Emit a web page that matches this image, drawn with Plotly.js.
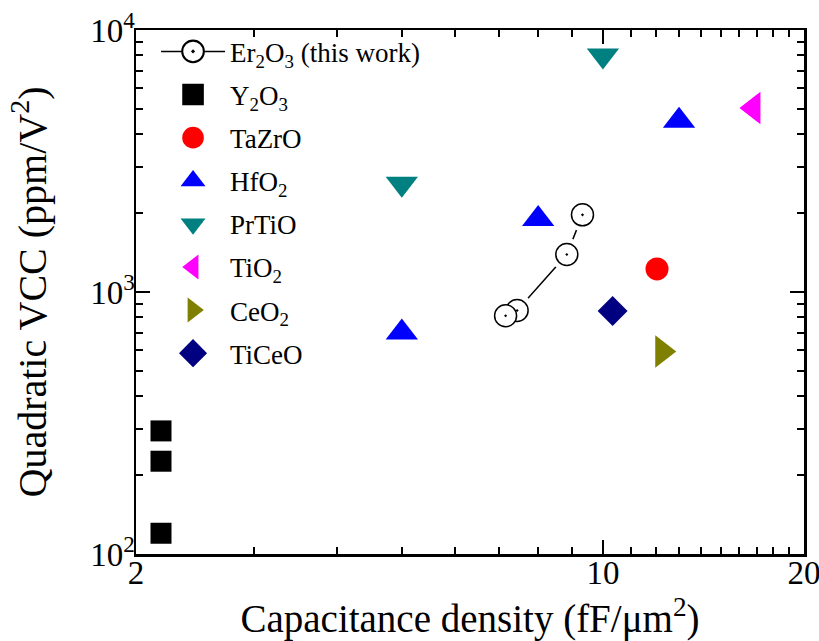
<!DOCTYPE html>
<html>
<head>
<meta charset="utf-8">
<script src="https://cdn.plot.ly/plotly-3.0.1.min.js"></script>
<style>
  html, body { margin: 0; padding: 0; background: #fff; }
  #chart { width: 819px; height: 641px; }
</style>
</head>
<body>
<div id="chart"></div>
<script>
// Capacitance density (fF/um^2) vs quadratic VCC (ppm/V^2) for MIM dielectrics
const er2o3X = [9.32, 8.83, 7.44, 7.15];
const er2o3Y = [1970, 1390, 850, 812];

const y2o3X = [2.18, 2.18, 2.18];
const y2o3Y = [295, 226, 120];

const tazroX = [12.05];
const tazroY = [1225];

const hfo2X = [5.0, 8.0, 13.0];
const hfo2Y = [700, 1900, 4500];

const prtioX = [10.0, 5.0];
const prtioY = [8000, 2590];

const tio2X = [16.8];
const tio2Y = [5040];

const ceo2X = [12.27];
const ceo2Y = [593];

const ticeoX = [10.34];
const ticeoY = [846];

const xMajorTicks = [2, 10, 20];
const xMajorText = ['2', '10', '20'];
const xMinorTicks = [3, 4, 5, 6, 7, 8, 9, 11, 12, 13, 14, 15, 16, 17, 18, 19];
const yMajorTicks = [100, 1000, 10000];
const yMajorText = ['10<sup>2</sup>', '10<sup>3</sup>', '10<sup>4</sup>'];
const yMinorTicks = [200, 300, 400, 500, 600, 700, 800, 900,
                     2000, 3000, 4000, 5000, 6000, 7000, 8000, 9000];

const FONT = "'Liberation Serif', 'Times New Roman', serif";

const traces = [
  // Er2O3: connecting line + open dotted circles
  {
    x: er2o3X, y: er2o3Y, name: 'Er<sub>2</sub>O<sub>3</sub> (this work)', legendgroup: 'g1',
    mode: 'lines+markers', type: 'scatter',
    line: {color: '#000', width: 1.5},
    marker: {symbol: 'circle-dot', size: 22, color: '#fff', line: {color: '#000', width: 1.5}}
  },
  // white halo leaves a gap between the line and each circle
  {
    x: er2o3X, y: er2o3Y, mode: 'markers', type: 'scatter', showlegend: false, legendgroup: 'g1',
    hoverinfo: 'skip',
    marker: {symbol: 'circle', size: 33, color: '#fff', line: {width: 0}}
  },
  {
    x: er2o3X, y: er2o3Y, mode: 'markers', type: 'scatter', showlegend: false, legendgroup: 'g1',
    marker: {symbol: 'circle-dot', size: 22, color: '#fff', line: {color: '#000', width: 1.5}}
  },
  {
    x: y2o3X, y: y2o3Y, name: 'Y<sub>2</sub>O<sub>3</sub>', legendgroup: 'g2', mode: 'markers', type: 'scatter',
    marker: {symbol: 'square', size: 21, color: '#000'}
  },
  {
    x: tazroX, y: tazroY, name: 'TaZrO', legendgroup: 'g3', mode: 'markers', type: 'scatter',
    marker: {symbol: 'circle', size: 23, color: '#ff0000'}
  },
  {
    x: hfo2X, y: hfo2Y, name: 'HfO<sub>2</sub>', legendgroup: 'g4', mode: 'markers', type: 'scatter',
    marker: {symbol: 'triangle-up', size: 28, color: '#0000ff'}
  },
  {
    x: prtioX, y: prtioY, name: 'PrTiO', legendgroup: 'g5', mode: 'markers', type: 'scatter',
    marker: {symbol: 'triangle-down', size: 28, color: '#008080'}
  },
  {
    x: tio2X, y: tio2Y, name: 'TiO<sub>2</sub>', legendgroup: 'g6', mode: 'markers', type: 'scatter',
    marker: {symbol: 'triangle-left', size: 28, color: '#ff00ff'}
  },
  {
    x: ceo2X, y: ceo2Y, name: 'CeO<sub>2</sub>', legendgroup: 'g7', mode: 'markers', type: 'scatter',
    marker: {symbol: 'triangle-right', size: 28, color: '#808000'}
  },
  {
    x: ticeoX, y: ticeoY, name: 'TiCeO', legendgroup: 'g8', mode: 'markers', type: 'scatter',
    marker: {symbol: 'diamond', size: 23, color: '#000080'}
  }
];

const axisCommon = {
  type: 'log',
  showgrid: false,
  zeroline: false,
  showline: true,
  linecolor: '#000',
  linewidth: 2.5,
  mirror: 'ticks',
  ticks: 'inside',
  ticklen: 14,
  tickwidth: 2,
  tickcolor: '#000',
  tickmode: 'array',
  ticklabeloverflow: 'allow',
  tickfont: {family: FONT, size: 33, color: '#000'}
};

const layout = {
  width: 819,
  height: 641,
  margin: {l: 136, r: 15, t: 30, b: 87},
  paper_bgcolor: '#fff',
  plot_bgcolor: '#fff',
  font: {family: FONT, color: '#000'},
  showlegend: true,
  legend: {
    x: 0.03, y: 1.005, xanchor: 'left', yanchor: 'top',
    bgcolor: 'rgba(0,0,0,0)', borderwidth: 0,
    font: {family: FONT, size: 27, color: '#000'},
    itemwidth: 64,
    tracegroupgap: 5,
    maxheight: 600
  },
  xaxis: Object.assign({}, axisCommon, {
    range: [Math.log10(2), Math.log10(20)],
    tickvals: xMajorTicks, ticktext: xMajorText,
    ticklabelstandoff: -12,
    minor: {tickmode: 'array', tickvals: xMinorTicks, ticks: 'inside', ticklen: 7, tickwidth: 2, tickcolor: '#000', showgrid: false},
    title: {text: 'Capacitance density (fF/\u03bcm<sup>2</sup>)', font: {family: FONT, size: 39, color: '#000'}, standoff: 15}
  }),
  yaxis: Object.assign({}, axisCommon, {
    range: [2, 4],
    tickvals: yMajorTicks, ticktext: yMajorText,
    ticklabelstandoff: -8,
    minor: {tickmode: 'array', tickvals: yMinorTicks, ticks: 'inside', ticklen: 7, tickwidth: 2, tickcolor: '#000', showgrid: false},
    title: {text: 'Quadratic VCC (ppm/V<sup>2</sup>)', font: {family: FONT, size: 40, color: '#000'}, standoff: 32}
  })
};

Plotly.newPlot('chart', traces, layout, {displayModeBar: false, staticPlot: true}).then(function (gd) {
  // enlarge the legend symbols to the size of the plotted markers
  gd.querySelectorAll('.legend .legendpoints path.scatterpts').forEach(function (p) {
    const t = p.getAttribute('transform') || '';
    p.setAttribute('transform', t + ' scale(1.35)');
  });
});
</script>
</body>
</html>
